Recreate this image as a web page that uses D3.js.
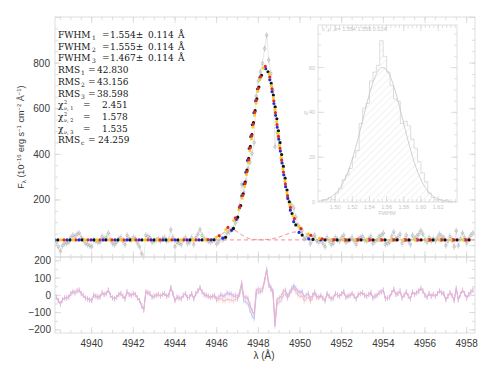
<!DOCTYPE html>
<html>
<head>
<meta charset="utf-8">
<script src="https://cdn.jsdelivr.net/npm/d3@7"></script>
<style>
  body { margin: 0; background: #fff; }
  svg { font-family: "Liberation Sans", Arial, sans-serif; }
</style>
</head>
<body>
<svg id="chart" width="490" height="368"></svg>
<script>
// spectrum sampling (Å)
var lamStart = 4938.3, lamStep = 0.1;

// residual of fit 2, one value per pixel
var residual2 = [
  -10, -30, -50, -25, -15, -15, -10, 10, 20, 15,
  25, 30, 10, 0, -15, -20, -25, -30, 0, -5,
  -10, -10, 15, 5, 10, 30, 0, -15, -20, -10,
  5, 10, -5, -20, 20, 5, 0, 10, 5, -15,
  -30, -60, -85, 20, 15, 10, -10, -5, 0, 5,
  -5, 5, 10, -5, 0, 45, 10, -30, -10, -15,
  -20, 0, 10, -15, -10, 10, -20, 10, 25, 45,
  20, 5, 0, -5, -10, -5, 0, -20, -10, 5,
  -5, 0, 15, 10, 10, 0, 5, -5, 20, 75,
  -10, -15, -20, -60, -90, -110, 30, 40, 35, 40,
  90, 150, 60, 35, 10, -180, -50, -40, -30, 0,
  10, -20, 5, 30, 50, 35, 20, 15, 20, -10,
  0, 10, -20, 0, 20, -5, -10, 0, -15, -30,
  10, -5, -20, -15, 10, 0, -5, 10, 20, -10,
  -5, 0, 10, -5, -20, 5, 10, 15, 0, -5,
  5, 15, -15, -5, 0, 15, 20, 30, -20, -15,
  -10, 15, 35, 5, 10, 25, -15, 0, 20, -5,
  -20, 20, 5, 15, 25, 40, 25, 0, -10, 10,
  -5, 5, -5, 10, 25, 15, 10, -25, -5, 15,
  0, -30, 40, -25, 5, 30, 10, -15, 5, 20,
  30
];
var fluxErr = 15;
var continuum = 25;

// three line fits: centre, FWHM, amplitude
var fitCenters = [4948.30, 4948.34, 4948.32];
var fitFwhm = [1.554, 1.555, 1.467];
var fitAmps = [753, 750, 760];
// extra wing components of fit 3 (red dashed)
var wingCenters = [4946.7, 4949.85];
var wingFwhm = [1.0, 1.4];
var wingAmps = [45, 35];

// numbers printed in the panel
var fwhmVals = ["1.554", "1.555", "1.467"];
var fwhmErrs = ["0.114", "0.114", "0.114"];
var rmsVals = ["42.830", "43.156", "38.598"];
var chiVals = ["2.451", "1.578", "1.535"];
var rmsCont = "24.259";

var xTicks = [4940, 4942, 4944, 4946, 4948, 4950, 4952, 4954, 4956, 4958];
var yTicksMain = [200, 400, 600, 800];
var yTicksRes = [200, 100, 0, -100, -200];

// inset: bootstrap FWHM histogram
var histStart = 1.484, histBin = 0.004;
var histCounts = [1, 1, 2, 1, 4, 6, 10, 12, 15, 20, 23, 35, 42, 44, 54, 58, 61, 72, 65, 58,
                  52, 46, 45, 35, 36, 34, 28, 24, 18, 13, 9, 4, 2, 1, 1, 0, 1, 0];
var histFit = { amp: 60, mu: 1.5555, sigma: 0.0235 };
var histXTicks = [1.50, 1.52, 1.54, 1.56, 1.58, 1.60, 1.62];
var histYTicks = [0, 20, 40, 60];

var svg = d3.select("#chart");
var L = 55, R = 475, T = 17, MB = 257, RB = 333;

var x = d3.scaleLinear().domain([4938.24, 4958.4]).range([L, R]);
var yM = d3.scaleLinear().domain([-50, 1002]).range([MB, T]);
var yR = d3.scaleLinear().domain([-218, 222]).range([RB, MB]);

function gauss(l, c, fwhm, a) {
  return a * Math.exp(-4 * Math.LN2 * (l - c) * (l - c) / (fwhm * fwhm));
}
function model(k, l) {
  var v = continuum + gauss(l, fitCenters[k], fitFwhm[k], fitAmps[k]);
  if (k === 2) {
    wingCenters.forEach(function (c, j) { v += gauss(l, c, wingFwhm[j], wingAmps[j]); });
  }
  return v;
}

var lam = residual2.map(function (d, i) { return lamStart + i * lamStep; });
var obs = residual2.map(function (r, i) { return model(1, lam[i]) + r; });
var resid = [0, 1, 2].map(function (k) {
  return obs.map(function (o, i) { return o - model(k, lam[i]); });
});
var fine = d3.range(4938.24, 4958.41, 0.02);

// clip paths
var defs = svg.append("defs");
defs.append("clipPath").attr("id", "clipMain").append("rect")
  .attr("x", L).attr("y", T).attr("width", R - L).attr("height", MB - T);
defs.append("clipPath").attr("id", "clipRes").append("rect")
  .attr("x", L).attr("y", MB).attr("width", R - L).attr("height", RB - MB);
var hatch = defs.append("pattern").attr("id", "hatch").attr("patternUnits", "userSpaceOnUse")
  .attr("width", 5).attr("height", 5).attr("patternTransform", "rotate(45)");
hatch.append("line").attr("x1", 0).attr("y1", 0).attr("x2", 0).attr("y2", 5)
  .attr("stroke", "#dadada").attr("stroke-width", 0.7);

// frame with inward IDL-like ticks
function frame(x0, x1, y0, y1, xs, ys, xMaj, xMin, yMaj, yMin, col) {
  var g = svg.append("g").attr("stroke", col).attr("fill", "none").attr("stroke-width", 0.8);
  g.append("rect").attr("x", x0).attr("y", y0).attr("width", x1 - x0).attr("height", y1 - y0);
  function xt(vals, len) {
    vals.forEach(function (v) {
      var px = xs(v);
      if (px <= x0 || px >= x1) return;
      g.append("line").attr("x1", px).attr("x2", px).attr("y1", y1).attr("y2", y1 - len);
      g.append("line").attr("x1", px).attr("x2", px).attr("y1", y0).attr("y2", y0 + len);
    });
  }
  function yt(vals, len) {
    vals.forEach(function (v) {
      var py = ys(v);
      if (py <= y0 || py >= y1) return;
      g.append("line").attr("y1", py).attr("y2", py).attr("x1", x0).attr("x2", x0 + len);
      g.append("line").attr("y1", py).attr("y2", py).attr("x1", x1).attr("x2", x1 - len);
    });
  }
  xt(xMaj, 6); xt(xMin, 3); yt(yMaj, 6); yt(yMin, 3);
}

// ---- main panel ----
var main = svg.append("g").attr("clip-path", "url(#clipMain)");

// wing components
wingCenters.forEach(function (c, j) {
  main.append("path")
    .datum(fine)
    .attr("d", d3.line().x(function (l) { return x(l); })
      .y(function (l) { return yM(continuum + gauss(l, c, wingFwhm[j], wingAmps[j])); }))
    .attr("fill", "none").attr("stroke", "#f07a7a").attr("stroke-width", 1)
    .attr("stroke-dasharray", "4,3");
});

// observed spectrum
main.append("path").datum(obs)
  .attr("d", d3.line().x(function (d, i) { return x(lam[i]); }).y(function (d) { return yM(d); }))
  .attr("fill", "none").attr("stroke", "#d0d0d0").attr("stroke-width", 0.5);
main.selectAll("line.err").data(obs).enter().append("line")
  .attr("x1", function (d, i) { return x(lam[i]); })
  .attr("x2", function (d, i) { return x(lam[i]); })
  .attr("y1", function (d) { return yM(d - fluxErr); })
  .attr("y2", function (d) { return yM(d + fluxErr); })
  .attr("stroke", "#bdbdbd").attr("stroke-width", 0.5);
main.selectAll("circle.obs").data(obs).enter().append("circle")
  .attr("cx", function (d, i) { return x(lam[i]); })
  .attr("cy", function (d) { return yM(d); })
  .attr("r", 1.3).attr("fill", "none").attr("stroke", "#9a9a9a").attr("stroke-width", 0.5);

// fitted models as beaded lines
var beads = [
  { k: 0, color: "#2030d0", off: 0 },
  { k: 1, color: "#111111", off: 3 },
  { k: 2, color: "#f3d020", off: 6 },
  { k: 2, color: "#e8281c", off: 9 }
];
beads.forEach(function (b) {
  main.append("path").datum(fine)
    .attr("d", d3.line().x(function (l) { return x(l); }).y(function (l) { return yM(model(b.k, l)); }))
    .attr("fill", "none").attr("stroke", b.color).attr("stroke-width", 3.2)
    .attr("stroke-linecap", "round").attr("stroke-dasharray", "0,12")
    .attr("stroke-dashoffset", -b.off);
});

// ---- residual panel ----
var res = svg.append("g").attr("clip-path", "url(#clipRes)");
var resColors = ["#b4c0f2", "#e2b2e0", "#f4b4b4"];
[0, 2, 1].forEach(function (k) {
  res.selectAll("line.e" + k).data(resid[k]).enter().append("line")
    .attr("x1", function (d, i) { return x(lam[i]); })
    .attr("x2", function (d, i) { return x(lam[i]); })
    .attr("y1", function (d) { return yR(d - fluxErr); })
    .attr("y2", function (d) { return yR(d + fluxErr); })
    .attr("stroke", resColors[k]).attr("stroke-width", 0.5);
  res.append("path").datum(resid[k])
    .attr("d", d3.line().x(function (d, i) { return x(lam[i]); }).y(function (d) { return yR(d); }))
    .attr("fill", "none").attr("stroke", resColors[k]).attr("stroke-width", 0.9);
});

// frames
frame(L, R, T, MB, x, yM, xTicks, d3.range(4938.5, 4958.4, 0.5), yTicksMain.concat([0, 1000]),
  d3.range(-50, 1000, 50), "#d6d6d6");
frame(L, R, MB, RB, x, yR, xTicks, d3.range(4938.5, 4958.4, 0.5), yTicksRes,
  d3.range(-200, 220, 50), "#d6d6d6");

// tick labels
var lab = svg.append("g").attr("fill", "#3a3a3a").style("font-size", "10px");
yTicksMain.forEach(function (v) {
  lab.append("text").attr("x", 50).attr("y", yM(v) + 3.5).attr("text-anchor", "end").text(v);
});
yTicksRes.forEach(function (v) {
  lab.append("text").attr("x", 51).attr("y", yR(v) + 3.5).attr("text-anchor", "end")
    .text(v < 0 ? "\u2212" + Math.abs(v) : v);
});
xTicks.forEach(function (v) {
  lab.append("text").attr("x", x(v)).attr("y", 347).attr("text-anchor", "middle")
    .style("font-family", "'Liberation Sans Narrow', 'Liberation Sans', sans-serif").text(v);
});
lab.append("text").attr("x", 264).attr("y", 359).attr("text-anchor", "middle").text("\u03bb (\u00c5)");

// y axis label
var yl = svg.append("text").attr("transform", "translate(24,137) rotate(-90)")
  .attr("text-anchor", "middle").style("font-size", "9px").attr("fill", "#3a3a3a");
yl.append("tspan").text("F");
yl.append("tspan").style("font-size", "6px").attr("dy", 2).text("\u03bb");
yl.append("tspan").attr("dy", -2).text(" (10");
yl.append("tspan").style("font-size", "6px").attr("dy", -3.5).text("\u221216");
yl.append("tspan").attr("dy", 3.5).text(" erg s");
yl.append("tspan").style("font-size", "6px").attr("dy", -3.5).text("\u22121");
yl.append("tspan").attr("dy", 3.5).text(" cm");
yl.append("tspan").style("font-size", "6px").attr("dy", -3.5).text("\u22122");
yl.append("tspan").attr("dy", 3.5).text(" \u00c5");
yl.append("tspan").style("font-size", "6px").attr("dy", -3.5).text("\u22121");
yl.append("tspan").attr("dy", 3.5).text(")");

// ---- fit statistics ----
var st = svg.append("g").attr("fill", "#151515");
function stxt(px, py, s, size) {
  return st.append("text").attr("x", px).attr("y", py)
    .style("font-family", "'DejaVu Serif', serif")
    .style("font-size", (size || 9) + "px").text(s);
}
function lineY(i) { return 38 + i * 11.7; }
fwhmVals.forEach(function (v, i) {
  var y = lineY(i);
  stxt(58, y, "FWHM");
  stxt(92, y + 2, String(i + 1), 6);
  stxt(102, y, "=");
  stxt(110, y, v + "\u00b1");
  stxt(148, y, fwhmErrs[i]);
  stxt(178, y, "\u00c5");
});
rmsVals.forEach(function (v, i) {
  var y = lineY(i + 3);
  stxt(58, y, "RMS");
  stxt(81, y + 2, String(i + 1), 6);
  stxt(88, y, "=");
  stxt(97, y, v);
});
chiVals.forEach(function (v, i) {
  var y = lineY(i + 6);
  stxt(58, y, "\u03c7");
  if (i < 2) stxt(64, y - 3.8, "2", 5);
  stxt(64, y + 2.2, "\u03bd, " + (i + 1), 5);
  stxt(83, y, "=");
  stxt(102, y, v);
});
(function () {
  var y = lineY(9);
  stxt(58, y, "RMS");
  stxt(81, y + 2, "c", 6);
  stxt(88, y, "=");
  stxt(98, y, rmsCont);
})();

// ---- inset histogram ----
var IL = 318, IR = 457, IT = 25, IB = 202;
var hx = d3.scaleLinear().domain([1.48, 1.642]).range([IL, IR]);
var hy = d3.scaleLinear().domain([0, 79]).range([IB, IT]);
var ins = svg.append("g");
ins.append("rect").attr("x", IL).attr("y", IT).attr("width", IR - IL).attr("height", IB - IT)
  .attr("fill", "#fff");
ins.selectAll("rect.bar").data(histCounts).enter().append("rect")
  .attr("x", function (d, i) { return hx(histStart + i * histBin); })
  .attr("width", hx(histStart + histBin) - hx(histStart))
  .attr("y", function (d) { return hy(d); })
  .attr("height", function (d) { return IB - hy(d); })
  .attr("fill", "url(#hatch)");
var stepPts = [];
histCounts.forEach(function (c, i) {
  stepPts.push([histStart + i * histBin, c]);
  stepPts.push([histStart + (i + 1) * histBin, c]);
});
ins.append("path").datum(stepPts)
  .attr("d", d3.line().x(function (d) { return hx(d[0]); }).y(function (d) { return hy(d[1]); }))
  .attr("fill", "none").attr("stroke", "#d0d0d0").attr("stroke-width", 0.7);
ins.append("path").datum(d3.range(1.48, 1.642, 0.001))
  .attr("d", d3.line().x(function (v) { return hx(v); })
    .y(function (v) { return hy(histFit.amp * Math.exp(-0.5 * Math.pow((v - histFit.mu) / histFit.sigma, 2))); }))
  .attr("fill", "none").attr("stroke", "#c4c4c4").attr("stroke-width", 0.8);
frame(IL, IR, IT, IB, hx, hy, histXTicks, d3.range(1.48, 1.642, 0.005), histYTicks,
  d3.range(0, 79, 5), "#d8d8d8");
var il = svg.append("g").attr("fill", "#c4c4c4").style("font-size", "5.5px");
histXTicks.forEach(function (v) {
  il.append("text").attr("x", hx(v)).attr("y", 209).attr("text-anchor", "middle").text(v.toFixed(2));
});
histYTicks.forEach(function (v) {
  il.append("text").attr("x", 315).attr("y", hy(v) + 2).attr("text-anchor", "end").text(v);
});
il.append("text").attr("x", 387).attr("y", 215).attr("text-anchor", "middle").text("FWHM");
il.append("text").attr("x", 306).attr("y", 115).attr("text-anchor", "middle").text("N");
il.append("text").attr("x", 322).attr("y", 31).text("c ,\u03bc ,\u03c3=  1.554   1.555   0.024");
</script>
</body>
</html>
